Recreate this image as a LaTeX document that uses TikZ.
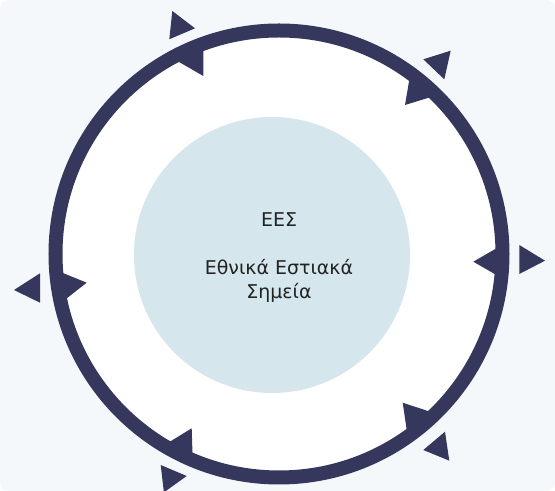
\documentclass[tikz,border=0pt]{standalone}
\usepackage{fontspec}
\setmainfont{DejaVu Sans}
\definecolor{ringnavy}{HTML}{35375C}
\definecolor{hubblue}{HTML}{D5E7ED}
\definecolor{paper}{HTML}{F4F8FB}
\definecolor{ink}{HTML}{222222}
\begin{document}
\begin{tikzpicture}[
    ring/.style={draw=ringnavy, fill=white, line width=0.42cm},
    marker/.style={fill=ringnavy},
    hub/.style={circle, fill=hubblue, minimum size=8.28cm, inner sep=0pt},
    caption/.style={align=center, text=ink, font=\fontsize{16.2}{20.4}\selectfont}
  ]
  \useasboundingbox (0.000000,0.000000) rectangle (16.650000,14.730000);
  % Drawing background
  \fill [paper, rounded corners=0.24cm] (0.000000,0.000000) rectangle (16.650000,14.730000);%

  % Drawing ring
  \draw [ring] (8.370000,7.110000) circle (6.705000);%

  % Drawing inner markers (pointing to the hub)
  \fill [marker] (6.099000,12.450000) -- (6.099000,13.350000) -- (5.319000,12.900000) -- cycle;%
  \fill [marker] (12.150000,11.580000) -- (12.930000,11.820000) -- (12.285000,12.375000) -- cycle;%
  \fill [marker] (14.199000,6.879000) -- (14.979000,7.329000) -- (14.979000,6.429000) -- cycle;%
  \fill [marker] (12.081000,2.649000) -- (12.900000,2.379000) -- (12.201000,1.830000) -- cycle;%
  \fill [marker] (5.751000,1.881000) -- (5.010000,1.425000) -- (5.778000,1.011000) -- cycle;%
  \fill [marker] (2.601000,6.249000) -- (1.767000,6.588000) -- (1.893000,5.694000) -- cycle;%

  % Drawing outer markers (pointing away)
  \fill [marker] (5.169000,14.400000) -- (5.850000,13.881000) -- (5.079000,13.551000) -- cycle;%
  \fill [marker] (13.521000,13.209000) -- (12.699000,12.951000) -- (13.329000,12.351000) -- cycle;%
  \fill [marker] (16.350000,6.909000) -- (15.579000,7.380000) -- (15.579000,6.510000) -- cycle;%
  \fill [marker] (13.479000,0.909000) -- (12.699000,1.230000) -- (13.350000,1.779000) -- cycle;%
  \fill [marker] (4.917000,-0.042000) -- (4.821000,0.780000) -- (5.601000,0.450000) -- cycle;%
  \fill [marker] (0.420000,6.030000) -- (1.200000,6.531000) -- (1.200000,5.649000) -- cycle;%

  % Drawing hub
  \node (hub) [hub] at (8.160000,7.080000) {};%
  \node (label) [caption] at (8.370000,7.005000) {ΕΕΣ\\[20.4pt]Εθνικά Εστιακά\\Σημεία};%
\end{tikzpicture}
\end{document}
